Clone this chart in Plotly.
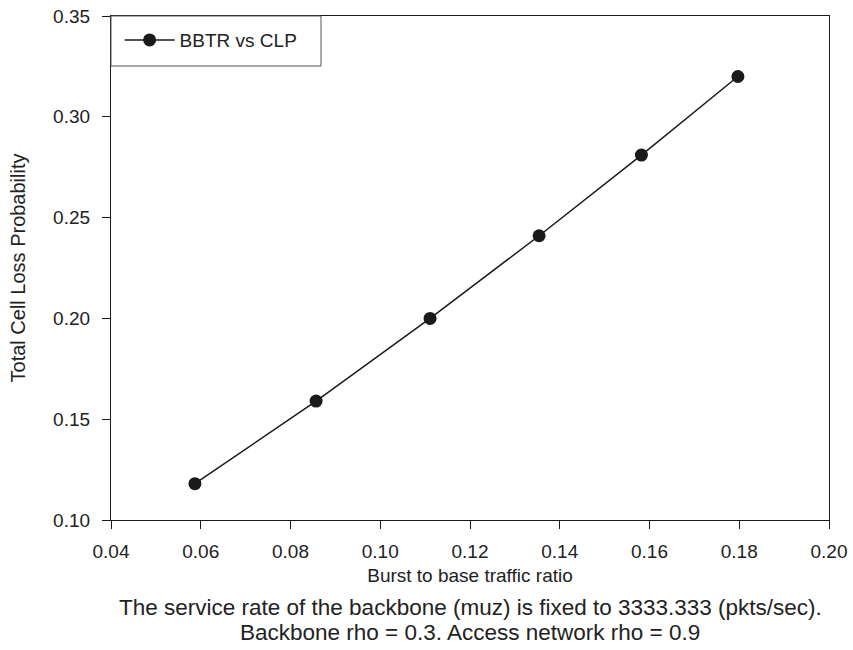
import plotly.graph_objects as go

burst_ratio = [0.0587, 0.0857, 0.1111, 0.1354, 0.1582, 0.1797]
cell_loss = [0.118, 0.159, 0.200, 0.241, 0.281, 0.320]
series_name = "BBTR vs CLP"
x_title = "Burst to base traffic ratio"
y_title = "Total Cell Loss Probability"
caption_lines = ["The service rate of the backbone (muz) is fixed to 3333.333 (pkts/sec).",
                 "Backbone rho = 0.3. Access network rho = 0.9"]

FONT = "Liberation Sans, Arial, sans-serif"
INK = "#1a1a1a"
TXT = "#222"

fig = go.Figure()
fig.add_trace(go.Scatter(
    x=burst_ratio, y=cell_loss, mode="lines+markers", name=series_name,
    line=dict(color=INK, width=1.5),
    marker=dict(symbol="circle", size=13, color=INK),
))

axis_common = dict(
    showgrid=False, zeroline=False, showline=True, linecolor=INK, linewidth=1.3,
    mirror=True, ticks="outside", ticklen=8, tickwidth=1.2, tickcolor=INK,
    tickfont=dict(family=FONT, size=19, color=TXT),
)

fig.update_layout(
    width=853, height=650,
    margin=dict(l=111, r=24, t=16, b=130, autoexpand=False),
    paper_bgcolor="white", plot_bgcolor="white",
    font=dict(family=FONT, color=TXT),
    xaxis=dict(range=[0.04, 0.20], tickvals=[0.04, 0.06, 0.08, 0.10, 0.12, 0.14, 0.16, 0.18, 0.20],
               tickformat=".2f", ticklabelstandoff=6, automargin=False,
               title=dict(text=x_title, font=dict(family=FONT, size=19, color=TXT), standoff=7),
               **axis_common),
    yaxis=dict(range=[0.10, 0.35], tickvals=[0.10, 0.15, 0.20, 0.25, 0.30, 0.35],
               tickformat=".2f", ticklabelstandoff=8, automargin=False,
               title=dict(text=y_title, font=dict(family=FONT, size=20, color=TXT), standoff=22),
               **axis_common),
    showlegend=True,
    legend=dict(x=0.012, y=0.99, xanchor="left", yanchor="top",
                bgcolor="rgba(0,0,0,0)", borderwidth=0,
                font=dict(family=FONT, size=19, color=TXT), itemwidth=50),
    shapes=[dict(type="rect", xref="paper", yref="paper", x0=0, x1=0.2925, y0=0.9008, y1=1,
                 line=dict(color="#555", width=1), fillcolor="rgba(0,0,0,0)", layer="above")],
    annotations=[
        dict(text=caption_lines[0], xref="paper", yref="paper", x=0.5, y=-(607 - 520) / 504,
             xanchor="center", yanchor="middle", showarrow=False,
             font=dict(family=FONT, size=22.5, color=TXT)),
        dict(text=caption_lines[1], xref="paper", yref="paper", x=0.5, y=-(632 - 520) / 504,
             xanchor="center", yanchor="middle", showarrow=False,
             font=dict(family=FONT, size=22.5, color=TXT)),
    ],
)

fig.write_html("out.html")
